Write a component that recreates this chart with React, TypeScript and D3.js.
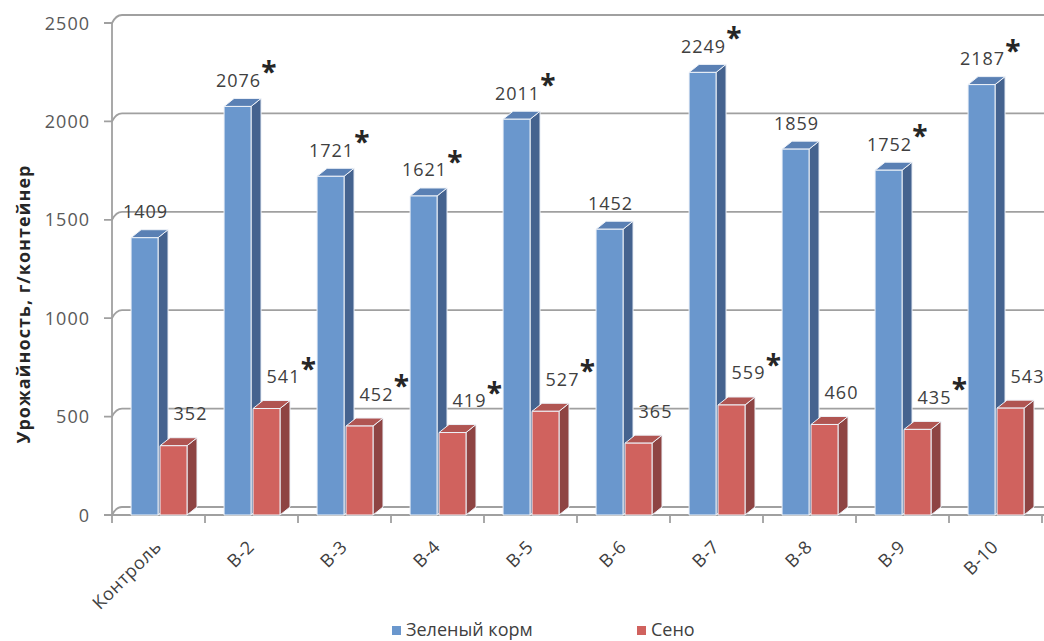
import React from "react";
import * as d3 from "d3";

// Yield per container, grams, for the control and treatments В-2 … В-10
const categories = ["Контроль", "В-2", "В-3", "В-4", "В-5", "В-6", "В-7", "В-8", "В-9", "В-10"];
const greenMass = [1409, 2076, 1721, 1621, 2011, 1452, 2249, 1859, 1752, 2187];
const hay = [352, 541, 452, 419, 527, 365, 559, 460, 435, 543];
// significant difference from the control (marked with an asterisk)
const greenSignificant = [false, true, true, true, true, false, true, false, true, true];
const haySignificant = [false, true, true, true, true, false, true, false, true, false];
const yTicks = [0, 500, 1000, 1500, 2000, 2500];
const seriesNames = ["Зеленый корм", "Сено"];
const yTitle = "Урожайность, г/контейнер";

const W = 1044;
const H = 641;
const left = 112;
const right = 1042;
const floorY = 515;
const topY = 23;
const depthX = 10;
const depthY = 8;

const BLUE = { front: "#6a97cd", side: "#45638f", top: "#5a80b4" };
const RED = { front: "#d0625e", side: "#8e4443", top: "#b05552" };
const GRID = "#a0a0a0";
const LABEL = "#404040";
const TICK = "#595959";
const FONT = "'Open Sans', 'Noto Sans', sans-serif";

const x = d3.scaleBand<string>().domain(categories).range([left, right]).padding(0);
const y = d3.scaleLinear().domain([0, 2500]).range([floorY, topY]);

function Bar3D({ x0, w, v, c }: { x0: number; w: number; v: number; c: typeof BLUE }) {
  const yt = y(v);
  const yb = y(0);
  const x1 = x0 + w;
  const side = d3.line()([
    [x1, yt],
    [x1 + depthX, yt - depthY],
    [x1 + depthX, yb - depthY],
    [x1, yb],
  ]) + "Z";
  const top = d3.line()([
    [x0, yt],
    [x0 + depthX, yt - depthY],
    [x1 + depthX, yt - depthY],
    [x1, yt],
  ]) + "Z";
  return (
    <g stroke="#eef2f8" strokeWidth={1} strokeLinejoin="round">
      <path d={side} fill={c.side} />
      <path d={top} fill={c.top} />
      <rect x={x0} y={yt} width={w} height={yb - yt} fill={c.front} />
    </g>
  );
}

function ValueLabel({ cx, cy, value, star }: { cx: number; cy: number; value: number; star: boolean }) {
  const txt = String(value);
  const halfW = txt.length * 5.6;
  return (
    <g>
      <text
        x={cx}
        y={cy + 6.5}
        textAnchor="middle"
        fontFamily={FONT}
        fontSize={18}
        letterSpacing={1}
        fill={LABEL}
      >
        {txt}
      </text>
      {star && (
        <text
          x={cx + halfW + 8}
          y={cy - 15 + 17}
          textAnchor="middle"
          fontFamily={FONT}
          fontWeight="bold"
          fontSize={28}
          fill="#262626"
        >
          *
        </text>
      )}
    </g>
  );
}

export default function App() {
  const bw = x.bandwidth();
  const barW = bw * 0.29;
  const blueOff = bw * 0.205;
  const redOff = blueOff + barW + 2;

  return (
    <svg
      width={W}
      height={H}
      viewBox={`0 0 ${W} ${H}`}
      style={{ position: "absolute", left: 0, top: 0, background: "#fff" }}
    >
      {/* back wall gridlines and slanted axis ticks */}
      <g stroke={GRID} strokeWidth={1.8} fill="none">
        {yTicks.map((t) => (
          <g key={t}>
            <line x1={left + depthX} x2={W} y1={y(t) - depthY} y2={y(t) - depthY} />
            <path d={`M${left - 8},${y(t)} L${left},${y(t)} Q${left + 4},${y(t) - depthY} ${left + depthX},${y(t) - depthY}`} />
          </g>
        ))}
        <line x1={left} x2={left} y1={y(2500)} y2={floorY} />
        <line x1={left} x2={W} y1={floorY} y2={floorY} />
        {categories.map((c) => (
          <line key={c} x1={(x(c) as number) + bw} x2={(x(c) as number) + bw} y1={floorY} y2={floorY + 8} />
        ))}
        <line x1={left} x2={left} y1={floorY} y2={floorY + 8} />
      </g>

      {/* y tick labels */}
      <g fontFamily={FONT} fontSize={18} letterSpacing={1} fill={TICK} textAnchor="end">
        {yTicks.map((t) => (
          <text key={t} x={90} y={y(t) + 6.5}>
            {t}
          </text>
        ))}
      </g>

      {/* axis title */}
      <text
        transform={`translate(23,304) rotate(-90)`}
        textAnchor="middle"
        dominantBaseline="central"
        fontFamily={FONT}
        fontWeight="bold"
        fontSize={18}
        letterSpacing={1}
        fill="#262626"
      >
        {yTitle}
      </text>

      {/* bars */}
      {categories.map((c, i) => {
        const bx = x(c) as number;
        return (
          <g key={c}>
            <Bar3D x0={bx + blueOff} w={barW} v={greenMass[i]} c={BLUE} />
            <Bar3D x0={bx + redOff} w={barW} v={hay[i]} c={RED} />
          </g>
        );
      })}

      {/* value labels */}
      {categories.map((c, i) => {
        const bx = x(c) as number;
        return (
          <g key={c}>
            <ValueLabel cx={bx + blueOff + barW / 2 + 1} cy={y(greenMass[i]) - 26} value={greenMass[i]} star={greenSignificant[i]} />
            <ValueLabel cx={bx + redOff + barW / 2 + 17} cy={y(hay[i]) - 32} value={hay[i]} star={haySignificant[i]} />
          </g>
        );
      })}

      {/* category labels */}
      <g fontFamily={FONT} fontSize={18} letterSpacing={0.5} fill={LABEL} textAnchor="end">
        {categories.map((c) => {
          const cx = (x(c) as number) + bw / 2;
          return (
            <text key={c} transform={`translate(${cx + 4},${floorY + 33}) rotate(-45)`}>
              {c}
            </text>
          );
        })}
      </g>

      {/* legend */}
      <g fontFamily={FONT} fontSize={18} fill={LABEL}>
        <rect x={392} y={626} width={9} height={9} fill={BLUE.front} />
        <text x={406} y={636}>{seriesNames[0]}</text>
        <rect x={637} y={626} width={9} height={9} fill={RED.front} />
        <text x={651} y={636}>{seriesNames[1]}</text>
      </g>
    </svg>
  );
}
